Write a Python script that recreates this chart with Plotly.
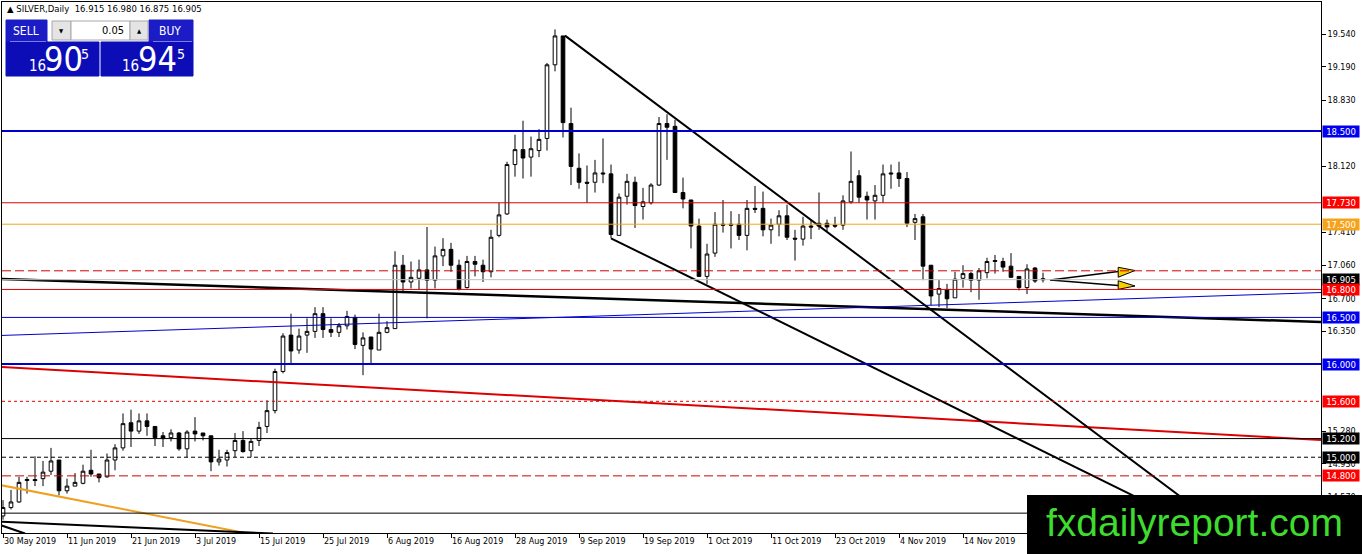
import plotly.graph_objects as go

# daily candles, bar 0 = 30 May 2019
OPEN = [14.37, 14.46, 14.52, 14.75, 14.76, 14.77, 14.85, 14.97, 14.64, 14.69,
        14.72, 14.86, 14.82, 14.79, 14.97, 15.10, 15.37, 15.28, 15.39, 15.33,
        15.23, 15.21, 15.26, 15.09, 15.28, 15.26, 15.23, 14.95, 14.97, 15.07,
        15.18, 15.07, 15.18, 15.33, 15.50, 15.92, 16.31, 16.15, 16.31, 16.35,
        16.54, 16.37, 16.34, 16.41, 16.50, 16.20, 16.29, 16.15, 16.34, 16.38,
        17.06, 16.88, 16.92, 17.01, 16.90, 17.16, 17.23, 17.06, 16.82, 17.10,
        17.06, 16.99, 17.38, 17.61, 18.14, 18.30, 18.22, 18.29, 18.42, 19.21,
        19.52, 18.58, 18.10, 17.95, 17.95, 18.05, 18.04, 17.38, 17.80, 17.95,
        17.69, 17.73, 17.92, 18.58, 18.55, 17.84, 17.76, 17.48, 16.94, 17.19,
        17.50, 17.50, 17.50, 17.38, 17.67, 17.67, 17.44, 17.50, 17.59, 17.35,
        17.34, 17.48, 17.48, 17.51, 17.49, 17.49, 17.74, 18.02, 17.80, 17.75,
        17.81, 18.05, 18.05, 17.99, 17.52, 17.58, 17.06, 16.75, 16.80, 16.71,
        16.92, 16.97, 16.90, 16.98, 17.10, 17.10, 17.05, 16.94, 16.82, 17.03,
        16.915]
HIGH = [14.54, 14.65, 14.79, 14.79, 15.01, 14.96, 15.10, 14.97, 14.77, 14.83,
        14.92, 15.08, 14.82, 15.04, 15.14, 15.47, 15.51, 15.47, 15.47, 15.33,
        15.27, 15.30, 15.27, 15.29, 15.43, 15.26, 15.23, 15.08, 15.08, 15.26,
        15.28, 15.20, 15.38, 15.61, 15.95, 16.33, 16.54, 16.38, 16.49, 16.61,
        16.61, 16.49, 16.44, 16.57, 16.53, 16.34, 16.29, 16.54, 16.46, 17.21,
        17.17, 17.10, 17.12, 17.47, 17.26, 17.35, 17.30, 17.12, 17.16, 17.16,
        17.12, 17.44, 17.73, 18.17, 18.46, 18.61, 18.44, 18.52, 19.23, 19.59,
        19.52, 18.75, 18.26, 18.13, 18.19, 18.42, 18.14, 17.83, 18.04, 18.01,
        17.89, 17.94, 18.65, 18.68, 18.62, 18.00, 17.76, 17.56, 17.29, 17.63,
        17.76, 17.64, 17.61, 17.76, 17.91, 17.85, 17.56, 17.65, 17.71, 17.44,
        17.58, 17.55, 17.84, 17.55, 17.58, 17.81, 18.28, 18.08, 17.85, 17.92,
        18.14, 18.14, 18.17, 18.06, 17.61, 17.61, 17.06, 16.90, 16.86, 16.99,
        17.06, 16.99, 17.03, 17.14, 17.17, 17.14, 17.19, 16.94, 17.07, 17.04,
        16.980]
LOW = [14.33, 14.44, 14.51, 14.61, 14.69, 14.69, 14.81, 14.59, 14.61, 14.69,
       14.71, 14.79, 14.73, 14.78, 14.86, 15.07, 15.11, 15.25, 15.23, 15.12,
       15.11, 15.17, 15.07, 15.00, 15.17, 15.18, 14.85, 14.91, 14.90, 15.00,
       15.05, 15.00, 15.12, 15.26, 15.47, 15.90, 16.01, 16.11, 16.12, 16.28,
       16.28, 16.29, 16.29, 16.37, 16.16, 15.88, 15.99, 16.15, 16.33, 16.38,
       16.76, 16.81, 16.80, 16.49, 16.81, 17.05, 16.99, 16.79, 16.81, 16.94,
       16.88, 16.93, 17.36, 17.60, 18.01, 17.99, 18.01, 18.22, 18.29, 19.14,
       18.43, 17.92, 17.88, 17.73, 17.84, 17.94, 17.35, 17.38, 17.71, 17.46,
       17.55, 17.71, 17.91, 18.19, 17.84, 17.67, 17.24, 16.94, 16.86, 17.15,
       17.41, 17.24, 17.33, 17.22, 17.62, 17.37, 17.29, 17.37, 17.33, 17.11,
       17.27, 17.34, 17.44, 17.42, 17.46, 17.44, 17.72, 17.73, 17.55, 17.55,
       17.73, 17.88, 17.90, 17.47, 17.33, 16.90, 16.63, 16.61, 16.60, 16.71,
       16.82, 16.77, 16.69, 16.92, 16.97, 16.99, 16.93, 16.79, 16.75, 16.87,
       16.875]
CLOSE = [14.46, 14.52, 14.73, 14.76, 14.75, 14.84, 14.96, 14.64, 14.69, 14.73,
         14.85, 14.82, 14.78, 14.97, 15.10, 15.36, 15.28, 15.39, 15.33, 15.21,
         15.20, 15.26, 15.09, 15.27, 15.25, 15.23, 14.95, 14.98, 15.05, 15.18,
         15.06, 15.17, 15.32, 15.50, 15.92, 16.30, 16.14, 16.30, 16.35, 16.54,
         16.37, 16.34, 16.41, 16.51, 16.21, 16.28, 16.16, 16.34, 16.39, 17.06,
         16.88, 16.93, 17.01, 16.90, 17.16, 17.23, 17.06, 16.80, 17.10, 17.07,
         16.99, 17.36, 17.60, 18.14, 18.30, 18.21, 18.31, 18.41, 19.21, 19.52,
         18.59, 18.12, 17.95, 17.94, 18.05, 18.04, 17.39, 17.79, 17.96, 17.70,
         17.74, 17.92, 18.58, 18.54, 17.84, 17.77, 17.48, 16.94, 17.18, 17.50,
         17.49, 17.49, 17.38, 17.67, 17.66, 17.44, 17.49, 17.59, 17.36, 17.34,
         17.48, 17.47, 17.51, 17.47, 17.48, 17.75, 17.96, 17.79, 17.76, 17.81,
         18.04, 18.04, 17.99, 17.51, 17.56, 17.05, 16.73, 16.81, 16.70, 16.91,
         16.97, 16.90, 17.00, 17.10, 17.11, 17.04, 16.93, 16.82, 17.02, 16.89,
         16.905]

DATE_LABELS = ["30 May 2019", "11 Jun 2019", "21 Jun 2019", "3 Jul 2019",
               "15 Jul 2019", "25 Jul 2019", "6 Aug 2019", "16 Aug 2019",
               "28 Aug 2019", "9 Sep 2019", "19 Sep 2019", "1 Oct 2019",
               "11 Oct 2019", "23 Oct 2019", "4 Nov 2019", "14 Nov 2019"]
# scale ticks that are not hidden behind a level label
PRICE_TICKS = [19.54, 19.19, 18.83, 18.12, 17.41, 17.06,
               16.70, 16.35, 15.28, 14.93, 14.57]

# horizontal levels: price, colour, width, dash, label colour (None = no label)
LEVELS = [
    (18.500, "#0000cc", 2, "solid", "#0000ee"),
    (17.730, "#e00000", 1, "solid", "#ff0000"),
    (17.500, "#eca81c", 1, "solid", "#f5a31a"),
    (17.000, "#d00000", 1, "9px,4px", None),
    (16.905, "#c0c0c0", 1, "solid", "#000000"),
    (16.800, "#e00000", 1, "solid", "#ff0000"),
    (16.500, "#0000cc", 1, "solid", "#0000ee"),
    (16.000, "#0000cc", 2, "solid", "#0000ee"),
    (15.600, "#e00000", 1, "3px,3px", "#ff0000"),
    (15.200, "#000000", 1, "solid", "#000000"),
    (15.000, "#000000", 1, "4px,3px", "#000000"),
    (14.800, "#d00000", 1, "9px,4px", "#ff0000"),
    (14.400, "#000000", 1, "solid", None),
]

# trend lines: (bar0, price0, bar1, price1), colour, width
TRENDS = [
    ((-0.375, 16.912, 164.75, 16.451), "#000000", 2.5),
    ((-0.375, 16.306, 164.75, 16.767), "#0000cc", 1),
    ((-0.375, 15.968, 164.75, 15.185), "#dd0000", 2),
    ((-0.375, 14.702, 30.25, 14.187), "#f0a020", 2),
    ((-0.375, 14.310, 33.75, 14.181), "#000000", 2),
    ((-0.375, 14.273, 2.75, 14.181), "#000000", 2),
    ((70.25, 19.523, 153.25, 14.187), "#000000", 2),
    ((76.0, 17.349, 150.75, 14.187), "#000000", 2),
]

# forecast arrows: start, tips, yellow heads
ARROW_START = (130.9, 16.901)
ARROW_ENDS = [(139.4, 16.993), (139.4, 16.842)]
ARROW_HEADS = [[(139.4, 17.038), (139.4, 16.931), (141.5, 17.003)],
               [(139.4, 16.894), (139.4, 16.801), (141.5, 16.837)]]

W, H = 1362, 554
L, R, T, B = 2, 1321, 2, 533


def px(x):
    return (x - L) / (R - L)


def py(y):
    return (B - y) / (B - T)


fig = go.Figure()
fig.add_trace(go.Candlestick(
    x=list(range(len(OPEN))), open=OPEN, high=HIGH, low=LOW, close=CLOSE,
    increasing=dict(fillcolor="white", line=dict(color="black", width=1)),
    decreasing=dict(fillcolor="black", line=dict(color="black", width=1)),
    whiskerwidth=0, hoverinfo="skip"))

for (x0, y0, x1, y1), color, width in TRENDS:
    fig.add_trace(go.Scatter(x=[x0, x1], y=[y0, y1], mode="lines",
                             line=dict(color=color, width=width), hoverinfo="skip"))

for (ex, ey) in ARROW_ENDS:
    fig.add_trace(go.Scatter(x=[ARROW_START[0], ex], y=[ARROW_START[1], ey], mode="lines",
                             line=dict(color="black", width=1.5), hoverinfo="skip"))
for head in ARROW_HEADS:
    fig.add_trace(go.Scatter(x=[p[0] for p in head] + [head[0][0]],
                             y=[p[1] for p in head] + [head[0][1]],
                             mode="lines", fill="toself", fillcolor="#f7d000",
                             line=dict(color="black", width=1), hoverinfo="skip"))

shapes = []
annotations = []
for price, color, width, dash, label in LEVELS:
    shapes.append(dict(type="line", xref="paper", x0=0, x1=1, yref="y", y0=price, y1=price,
                       line=dict(color=color, width=width, dash=dash), layer="above"))
    if label:
        annotations.append(dict(xref="paper", x=1, xanchor="left", xshift=1,
                                yref="y", y=price, yanchor="middle",
                                text="%.3f" % price, showarrow=False,
                                bgcolor=label, width=34, height=9, borderpad=1,
                                font=dict(family="DejaVu Sans", size=8.5, color="white")))

# header
annotations.append(dict(xref="paper", yref="paper", x=px(5), y=py(9), xanchor="left",
                        yanchor="middle", showarrow=False,
                        text="▲ SILVER,Daily  16.915 16.980 16.875 16.905",
                        font=dict(family="DejaVu Sans", size=8.5, color="black")))

# one-click trading panel
BLUE_TOP = "#1c1cc6"
BLUE_BIG = "#0d0db8"
panel_rects = [
    (6, 20, 47, 42, BLUE_TOP, BLUE_TOP),
    (149, 20, 193, 42, BLUE_TOP, BLUE_TOP),
    (6, 42, 99, 76, BLUE_BIG, BLUE_BIG),
    (101, 42, 193, 76, BLUE_BIG, BLUE_BIG),
    (52, 21, 71, 40, "#e4e4e4", "#a8a8a8"),
    (71, 21, 130, 40, "#ffffff", "#a8a8a8"),
    (130, 21, 148, 40, "#e4e4e4", "#a8a8a8"),
]
for x0, y0, x1, y1, fill, edge in panel_rects:
    shapes.append(dict(type="rect", xref="paper", yref="paper", x0=px(x0), x1=px(x1),
                       y0=py(y1), y1=py(y0), fillcolor=fill,
                       line=dict(color=edge, width=1), layer="above"))
for x0, x1 in [(10, 46), (153, 192)]:
    shapes.append(dict(type="line", xref="paper", yref="paper", x0=px(x0), x1=px(x1),
                       y0=py(41.5), y1=py(41.5), line=dict(color="#7c7ce6", width=1),
                       layer="above"))

PANEL_FONT = "DejaVu Sans Condensed, Liberation Sans Narrow, Liberation Sans"
panel_texts = [
    ("SELL", 26, 31, 12, "white"),
    ("BUY", 170, 31, 12, "white"),
    ("0.05", 113, 30.5, 11, "black"),
    ("▼", 61.5, 30.5, 6, "black"),
    ("▲", 139, 30.5, 6, "black"),
    ("16", 37, 66, 15, "white"),
    ("90", 63, 59, 34, "white"),
    ("5", 85, 54, 14, "white"),
    ("16", 130, 66, 15, "white"),
    ("94", 157.5, 59, 34, "white"),
    ("5", 181, 54, 14, "white"),
]
for text, x, y, size, color in panel_texts:
    annotations.append(dict(xref="paper", yref="paper", x=px(x), y=py(y), xanchor="center",
                            yanchor="middle", showarrow=False, text=text,
                            font=dict(family=PANEL_FONT, size=size, color=color)))

# watermark
shapes.append(dict(type="rect", xref="paper", yref="paper", x0=px(1027), x1=px(1362),
                   y0=py(554), y1=py(495), fillcolor="black", line=dict(width=0),
                   layer="above"))
annotations.append(dict(xref="paper", yref="paper", x=px(1194), y=py(522), xanchor="center",
                        yanchor="middle", showarrow=False, text="fxdailyreport.com",
                        font=dict(family="Liberation Sans", size=39, color="#3ddc2e")))

fig.update_layout(
    width=W, height=H, autosize=False,
    margin=dict(l=L, r=W - R, t=T, b=H - B, pad=0),
    paper_bgcolor="white", plot_bgcolor="white",
    showlegend=False, boxgap=0.35,
    shapes=shapes, annotations=annotations,
)
fig.update_xaxes(
    range=[-0.125, 164.75], tickvals=[8 * k for k in range(len(DATE_LABELS))],
    ticktext=DATE_LABELS, ticks="outside", ticklen=4, tickcolor="black",
    ticklabelposition="outside right", showline=True, linecolor="black", linewidth=1,
    mirror=True, showgrid=False, zeroline=False, rangeslider=dict(visible=False),
    tickfont=dict(family="DejaVu Sans", size=8, color="black"), automargin=False)
fig.update_yaxes(
    range=[14.187, 19.884], side="right", tickvals=PRICE_TICKS,
    ticktext=["%.3f" % v for v in PRICE_TICKS], ticks="outside", ticklen=4,
    tickcolor="black", showline=True, linecolor="black", linewidth=1, mirror=True,
    showgrid=False, zeroline=False,
    tickfont=dict(family="DejaVu Sans", size=8, color="black"), automargin=False)

# the page body has a default 8px margin; drop it so the chart fills the window
fig.write_html("out.html", config={"displayModeBar": False},
               post_script="document.body.style.margin='0px';")
